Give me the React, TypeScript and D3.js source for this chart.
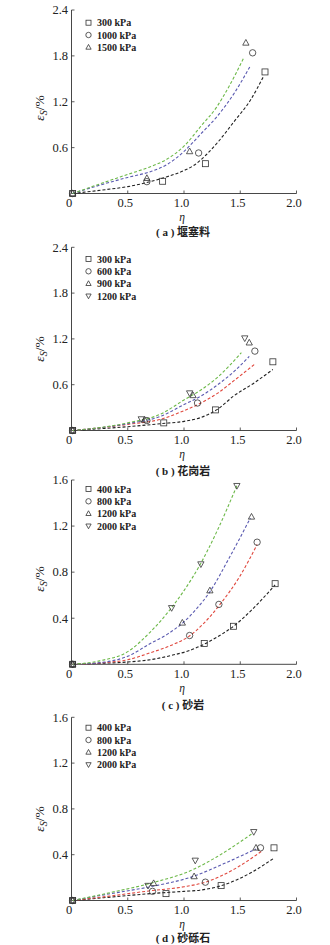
import React from 'react';
import * as d3 from 'd3';

// ---------- data ----------
const xTickValues = [0, 0.5, 1.0, 1.5, 2.0];
const xTickLabels = ['0', '0.5', '1.0', '1.5', '2.0'];
const yTicksAB = [0.6, 1.2, 1.8, 2.4];
const yTickLabelsAB = ['0.6', '1.2', '1.8', '2.4'];
const yTicksCD = [0.4, 0.8, 1.2, 1.6];
const yTickLabelsCD = ['0.4', '0.8', '1.2', '1.6'];

const captionTags = ['a', 'b', 'c', 'd'];
const captionNames = ['堰塞料', '花岗岩', '砂岩', '砂砾石'];

// panel (a)
const aLabels = ['300 kPa', '1000 kPa', '1500 kPa'];
const aPts300 = [[0.01, 0], [0.81, 0.16], [1.19, 0.39], [1.72, 1.59]];
const aPts1000 = [[0.01, 0], [0.67, 0.155], [1.13, 0.53], [1.61, 1.84]];
const aPts1500 = [[0.01, 0], [0.67, 0.2], [1.05, 0.55], [1.55, 1.97]];
const aFit300 = [[0.01, 0], [0.3, 0.05], [0.5, 0.09], [0.7, 0.155], [0.85, 0.22], [1.0, 0.3], [1.1, 0.38], [1.2, 0.51], [1.3, 0.67], [1.45, 0.95], [1.59, 1.22], [1.71, 1.54]];
const aFit1000 = [[0.01, 0], [0.3, 0.13], [0.5, 0.21], [0.7, 0.285], [0.85, 0.38], [1.0, 0.55], [1.15, 0.78], [1.29, 1.0], [1.45, 1.32], [1.59, 1.67]];
const aFit1500 = [[0.01, 0], [0.3, 0.15], [0.5, 0.25], [0.7, 0.35], [0.85, 0.45], [1.0, 0.62], [1.15, 0.88], [1.29, 1.13], [1.4, 1.4], [1.53, 1.77]];

// panel (b)
const bLabels = ['300 kPa', '600 kPa', '900 kPa', '1200 kPa'];
const bPts300 = [[0.01, 0], [0.82, 0.1], [1.28, 0.27], [1.79, 0.9]];
const bPts600 = [[0.01, 0], [0.67, 0.13], [1.12, 0.36], [1.63, 1.04]];
const bPts900 = [[0.01, 0], [0.65, 0.14], [1.08, 0.46], [1.58, 1.15]];
const bPts1200 = [[0.01, 0], [0.62, 0.15], [1.05, 0.49], [1.54, 1.21]];
const bFit300 = [[0.01, 0], [0.5, 0.05], [0.8, 0.09], [1.0, 0.12], [1.15, 0.17], [1.3, 0.28], [1.44, 0.45], [1.62, 0.62], [1.79, 0.8]];
const bFit600 = [[0.01, 0], [0.5, 0.08], [0.8, 0.15], [1.0, 0.26], [1.15, 0.36], [1.3, 0.49], [1.45, 0.66], [1.63, 0.87]];
const bFit900 = [[0.01, 0], [0.5, 0.09], [0.8, 0.19], [1.0, 0.34], [1.15, 0.45], [1.3, 0.6], [1.45, 0.78], [1.58, 0.97]];
const bFit1200 = [[0.01, 0], [0.5, 0.1], [0.8, 0.22], [1.0, 0.4], [1.15, 0.53], [1.3, 0.7], [1.51, 1.02]];

// panel (c)
const cLabels = ['400 kPa', '800 kPa', '1200 kPa', '2000 kPa'];
const cPts400 = [[0.01, 0], [1.18, 0.18], [1.44, 0.33], [1.81, 0.7]];
const cPts800 = [[0.01, 0], [1.05, 0.25], [1.31, 0.52], [1.65, 1.06]];
const cPts1200 = [[0.01, 0], [0.985, 0.36], [1.23, 0.64], [1.6, 1.28]];
const cPts2000 = [[0.01, 0], [0.89, 0.49], [1.15, 0.87], [1.47, 1.55]];
const cFit400 = [[0.01, 0], [0.3, 0.01], [0.5, 0.02], [0.7, 0.04], [0.9, 0.08], [1.05, 0.12], [1.17, 0.17], [1.3, 0.24], [1.44, 0.33], [1.6, 0.47], [1.81, 0.69]];
const cFit800 = [[0.01, 0], [0.3, 0.015], [0.5, 0.04], [0.7, 0.1], [0.9, 0.17], [1.04, 0.24], [1.18, 0.36], [1.32, 0.52], [1.5, 0.77], [1.65, 1.04]];
const cFit1200 = [[0.01, 0], [0.3, 0.02], [0.5, 0.07], [0.7, 0.18], [0.85, 0.26], [0.99, 0.36], [1.11, 0.48], [1.23, 0.63], [1.4, 0.92], [1.59, 1.27]];
const cFit2000 = [[0.01, 0], [0.25, 0.03], [0.5, 0.11], [0.7, 0.28], [0.88, 0.48], [1.0, 0.64], [1.14, 0.86], [1.3, 1.17], [1.47, 1.55]];

// panel (d)
const dLabels = ['400 kPa', '800 kPa', '1200 kPa', '2000 kPa'];
const dPts400 = [[0.01, 0], [0.84, 0.06], [1.33, 0.13], [1.8, 0.46]];
const dPts800 = [[0.01, 0], [0.72, 0.08], [1.19, 0.16], [1.68, 0.46]];
const dPts1200 = [[0.01, 0], [0.73, 0.15], [1.09, 0.21], [1.64, 0.46]];
const dPts2000 = [[0.01, 0], [0.68, 0.13], [1.1, 0.35], [1.62, 0.6]];
const dFit400 = [[0.01, 0], [0.35, 0.03], [0.7, 0.06], [1.0, 0.08], [1.14, 0.09], [1.35, 0.135], [1.59, 0.24], [1.8, 0.37]];
const dFit800 = [[0.01, 0], [0.35, 0.04], [0.7, 0.085], [1.0, 0.12], [1.19, 0.16], [1.44, 0.27], [1.69, 0.43]];
const dFit1200 = [[0.01, 0], [0.35, 0.06], [0.7, 0.12], [1.08, 0.21], [1.35, 0.32], [1.64, 0.45]];
const dFit2000 = [[0.01, 0], [0.35, 0.07], [0.7, 0.15], [1.08, 0.27], [1.29, 0.38], [1.6, 0.58]];

// ---------- styling / layout ----------
const BLACK = '#222';
const RED = '#e0483e';
const BLUE = '#5a5ab0';
const GREEN = '#6cb848';
const SERIF = '"Liberation Serif", "Times New Roman", serif';
const CJK = '"Noto Sans CJK SC", sans-serif';

type Marker = 'square' | 'circle' | 'up' | 'down';

interface Series { label: string; marker: Marker; color: string; pts: number[][]; fit: number[][] }
interface Panel {
  top: number; bottom: number; yMax: number; yTicks: number[]; yTickLabels: string[];
  legendY: number; yLabelY: number; etaDy: number; capDy: number; tag: string; name: string; series: Series[];
}

const panels: Panel[] = [
  {
    top: 10, bottom: 193.5, yMax: 2.4, yTicks: yTicksAB, yTickLabels: yTickLabelsAB,
    legendY: 22.7, yLabelY: 108, etaDy: 27.5, capDy: 42.5, tag: captionTags[0], name: captionNames[0],
    series: [
      { label: aLabels[0], marker: 'square', color: BLACK, pts: aPts300, fit: aFit300 },
      { label: aLabels[1], marker: 'circle', color: BLUE, pts: aPts1000, fit: aFit1000 },
      { label: aLabels[2], marker: 'up', color: GREEN, pts: aPts1500, fit: aFit1500 },
    ],
  },
  {
    top: 247.3, bottom: 430.5, yMax: 2.4, yTicks: yTicksAB, yTickLabels: yTickLabelsAB,
    legendY: 259, yLabelY: 349, etaDy: 27.5, capDy: 44, tag: captionTags[1], name: captionNames[1],
    series: [
      { label: bLabels[0], marker: 'square', color: BLACK, pts: bPts300, fit: bFit300 },
      { label: bLabels[1], marker: 'circle', color: RED, pts: bPts600, fit: bFit600 },
      { label: bLabels[2], marker: 'up', color: BLUE, pts: bPts900, fit: bFit900 },
      { label: bLabels[3], marker: 'down', color: GREEN, pts: bPts1200, fit: bFit1200 },
    ],
  },
  {
    top: 480, bottom: 664.3, yMax: 1.6, yTicks: yTicksCD, yTickLabels: yTickLabelsCD,
    legendY: 489, yLabelY: 579, etaDy: 28, capDy: 45, tag: captionTags[2], name: captionNames[2],
    series: [
      { label: cLabels[0], marker: 'square', color: BLACK, pts: cPts400, fit: cFit400 },
      { label: cLabels[1], marker: 'circle', color: RED, pts: cPts800, fit: cFit800 },
      { label: cLabels[2], marker: 'up', color: BLUE, pts: cPts1200, fit: cFit1200 },
      { label: cLabels[3], marker: 'down', color: GREEN, pts: cPts2000, fit: cFit2000 },
    ],
  },
  {
    top: 717.3, bottom: 900.5, yMax: 1.6, yTicks: yTicksCD, yTickLabels: yTickLabelsCD,
    legendY: 727.7, yLabelY: 819, etaDy: 27.3, capDy: 41, tag: captionTags[3], name: captionNames[3],
    series: [
      { label: dLabels[0], marker: 'square', color: BLACK, pts: dPts400, fit: dFit400 },
      { label: dLabels[1], marker: 'circle', color: RED, pts: dPts800, fit: dFit800 },
      { label: dLabels[2], marker: 'up', color: BLUE, pts: dPts1200, fit: dFit1200 },
      { label: dLabels[3], marker: 'down', color: GREEN, pts: dPts2000, fit: dFit2000 },
    ],
  },
];

const X0 = 71.5;
const X1 = 296.5;

function MarkerShape({ type, x, y, s }: { type: Marker; x: number; y: number; s: number }) {
  const common = { fill: 'none', stroke: '#333', strokeWidth: 0.8 };
  if (type === 'square') return <rect x={x - s / 2} y={y - s / 2} width={s} height={s} {...common} />;
  if (type === 'circle') return <circle cx={x} cy={y} r={s / 2 + 0.2} {...common} />;
  const h = s * 0.95;
  const w = s * 1.05;
  if (type === 'up')
    return <path d={`M${x},${y - h * 0.6}L${x + w / 2},${y + h * 0.4}L${x - w / 2},${y + h * 0.4}Z`} {...common} />;
  return <path d={`M${x},${y + h * 0.6}L${x + w / 2},${y - h * 0.4}L${x - w / 2},${y - h * 0.4}Z`} {...common} />;
}

function PanelView({ p }: { p: Panel }) {
  const x = d3.scaleLinear().domain([0, 2]).range([X0, X1]);
  const y = d3.scaleLinear().domain([0, p.yMax]).range([p.bottom, p.top]);
  const line = d3
    .line<number[]>()
    .x((d) => x(d[0]))
    .y((d) => y(d[1]))
    .curve(d3.curveMonotoneX);
  return (
    <g>
      {/* axes */}
      <line x1={X0} x2={X0} y1={p.bottom} y2={p.top} stroke="#333" strokeWidth={0.9} />
      <line x1={X0} x2={X1} y1={p.bottom} y2={p.bottom} stroke="#333" strokeWidth={0.9} />
      {p.yTicks.map((t, i) => (
        <g key={'yt' + i}>
          <line x1={X0} x2={X0 + 3} y1={y(t)} y2={y(t)} stroke="#333" strokeWidth={0.8} />
          <text x={X0 - 3.5} y={y(t) + 4.3} textAnchor="end" fontFamily={SERIF} fontSize={12.5} fill="#222">
            {p.yTickLabels[i]}
          </text>
        </g>
      ))}
      {xTickValues.map((t, i) => (
        <g key={'xt' + i}>
          {i > 0 && <line x1={x(t)} x2={x(t)} y1={p.bottom} y2={p.bottom - 3} stroke="#333" strokeWidth={0.8} />}
          <text x={x(t) - 2.5} y={p.bottom + 13.5} textAnchor="middle" fontFamily={SERIF} fontSize={12.5} fill="#222">
            {xTickLabels[i]}
          </text>
        </g>
      ))}
      {/* axis titles */}
      <text x={X0 + (X1 - X0) / 2 - 2} y={p.bottom + p.etaDy} textAnchor="middle" fontFamily={SERIF} fontStyle="italic" fontSize={11.5} fill="#222">
        η
      </text>
      <text
        transform={`translate(44,${p.yLabelY}) rotate(-90)`}
        textAnchor="middle"
        fontFamily={SERIF}
        fontSize={13.5}
        fill="#222"
      >
        <tspan fontStyle="italic">ε</tspan>
        <tspan fontSize={10} dy={3} fontStyle="italic">S</tspan>
        <tspan dy={-3}>/%</tspan>
      </text>
      <text x={X0 + (X1 - X0) / 2 - 1} y={p.bottom + p.capDy} textAnchor="middle" fontSize={11} fill="#222">
        <tspan fontFamily={SERIF} fontWeight="bold">{'( '}</tspan>
        <tspan fontFamily={SERIF} fontWeight="bold">{p.tag}</tspan>
        <tspan fontFamily={SERIF} fontWeight="bold">{' ) '}</tspan>
        <tspan fontFamily={CJK} fontWeight="bold">{p.name}</tspan>
      </text>
      {/* fit curves */}
      {p.series.map((s, i) => (
        <path key={'f' + i} d={line(s.fit) || ''} fill="none" stroke={s.color} strokeWidth={1.1} strokeDasharray="3,2" />
      ))}
      {/* points */}
      {p.series.map((s, i) =>
        s.pts.map((d, j) => <MarkerShape key={'p' + i + '-' + j} type={s.marker} x={x(d[0])} y={y(d[1])} s={6} />)
      )}
      {/* legend */}
      {p.series.map((s, i) => (
        <g key={'l' + i}>
          <MarkerShape type={s.marker} x={88.5} y={p.legendY + i * 12.3} s={5} />
          <text x={97} y={p.legendY + i * 12.3 + 3.6} fontFamily={SERIF} fontWeight="bold" fontSize={10} fill="#222">
            {s.label}
          </text>
        </g>
      ))}
    </g>
  );
}

export default function App() {
  return (
    <svg
      width={330}
      height={945}
      viewBox="0 0 330 945"
      style={{ position: 'absolute', left: 0, top: 0, background: '#fff' }}
    >
      <rect x={0} y={0} width={330} height={945} fill="#fff" />
      {panels.map((p, i) => (
        <PanelView key={i} p={p} />
      ))}
    </svg>
  );
}
